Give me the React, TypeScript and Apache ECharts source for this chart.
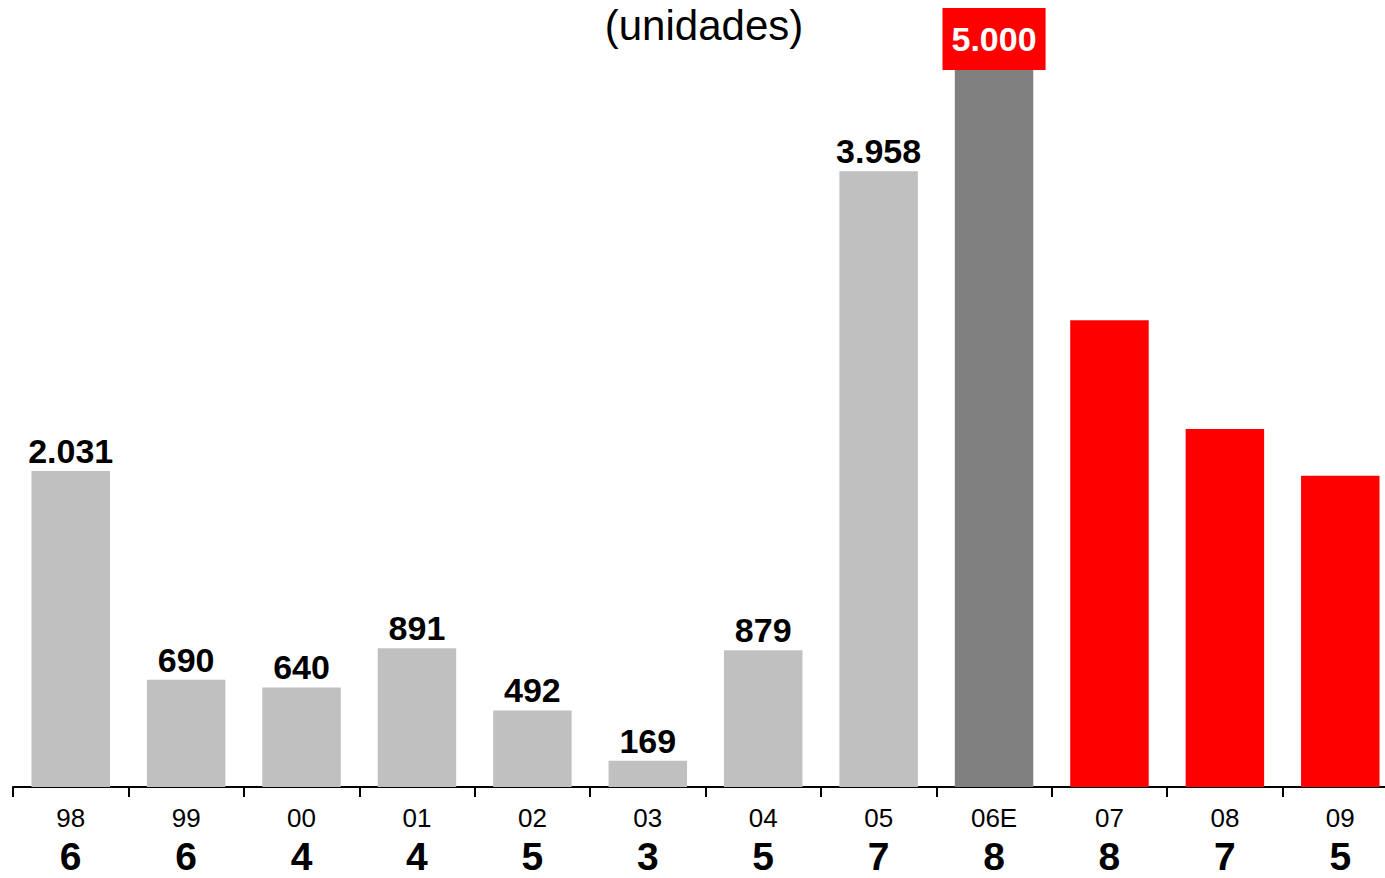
import React, { useEffect, useRef } from "react";
import * as echarts from "echarts";

const categories = ["98", "99", "00", "01", "02", "03", "04", "05", "06E", "07", "08", "09"];
const counts = ["6", "6", "4", "4", "5", "3", "5", "7", "8", "8", "7", "5"];
const values = [2031, 690, 640, 891, 492, 169, 879, 3958, 5000, 3000, 2300, 2000];
const barColors = ["#C0C0C0", "#C0C0C0", "#C0C0C0", "#C0C0C0", "#C0C0C0", "#C0C0C0", "#C0C0C0", "#C0C0C0", "#808080", "#FF0000", "#FF0000", "#FF0000"];
const showLabel = [true, true, true, true, true, true, true, true, true, false, false, false];
const titleText = "(unidades)";

const FONT = "'Liberation Sans', Arial, sans-serif";

function fmt(v: number): string {
  return String(v).replace(/\B(?=(\d{3})+(?!\d))/g, ".");
}

export default function App() {
  const ref = useRef<HTMLDivElement>(null);
  useEffect(() => {
    if (!ref.current) return;
    const chart = echarts.init(ref.current, null, { renderer: "svg" });
    const data = values.map((v, i) => {
      const highlight = i === 8;
      return {
        value: v,
        itemStyle: { color: barColors[i] },
        label: highlight
          ? {
              show: true,
              position: "insideTop",
              distance: 0,
              offset: [0, -1],
              color: "#FFFFFF",
              fontSize: 34,
              fontWeight: "bold",
              fontFamily: FONT,
              backgroundColor: "#FF0000",
              padding: [14, 9, 14, 9],
              formatter: (p: any) => fmt(p.value),
            }
          : { show: showLabel[i] },
      };
    });
    chart.setOption({
      animation: false,
      grid: { left: 13, width: 1385, top: 9, height: 778, containLabel: false },
      graphic: [
        {
          type: "text",
          x: 704,
          y: 25,
          style: {
            text: titleText,
            fontSize: 42,
            fontFamily: FONT,
            fill: "#000",
            textAlign: "center",
            textVerticalAlign: "middle",
          },
        },
      ],
      xAxis: {
        type: "category",
        data: categories,
        axisLine: { show: true, lineStyle: { color: "#000", width: 2 } },
        axisTick: { show: true, alignWithLabel: false, length: 10, lineStyle: { color: "#000", width: 2 } },
        axisLabel: {
          interval: 0,
          margin: 16,
          formatter: (v: string, i: number) => `{a|${v}}\n{b|${counts[i]}}`,
          rich: {
            a: { fontSize: 26, lineHeight: 30, fontFamily: FONT, color: "#000" },
            b: { fontSize: 39, lineHeight: 46, fontFamily: FONT, fontWeight: "bold", color: "#000" },
          },
        },
      },
      yAxis: {
        type: "value",
        min: 0,
        max: 5000,
        show: false,
        splitLine: { show: false },
      },
      series: [
        {
          type: "bar",
          data,
          barCategoryGap: "32%",
          label: {
            show: true,
            position: "top",
            distance: 3,
            color: "#000",
            fontSize: 34,
            fontWeight: "bold",
            fontFamily: FONT,
            formatter: (p: any) => fmt(p.value),
          },
        },
      ],
    });
    return () => chart.dispose();
  }, []);
  return (
    <div style={{ position: "fixed", left: 0, top: 0, width: 1385, height: 878, overflow: "hidden", background: "#fff" }}>
      <div ref={ref} style={{ width: 1410, height: 878 }} />
    </div>
  );
}
